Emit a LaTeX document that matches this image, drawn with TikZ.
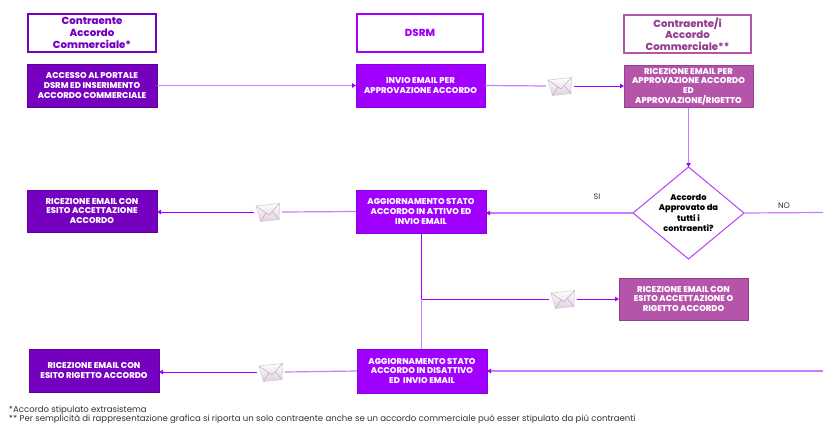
\documentclass[tikz,border=0pt]{standalone}
\usepackage{fontspec}
\setmainfont{Poppins}[BoldFont={Poppins ExtraBold}]
\usetikzlibrary{shapes.geometric,arrows.meta}
\definecolor{pviolet}{HTML}{A100FF}
\definecolor{pdark}{HTML}{7500C0}
\definecolor{pdarkb}{HTML}{5E0099}
\definecolor{pmag}{HTML}{B455AA}
\definecolor{pmagb}{HTML}{953F93}
\definecolor{pline}{HTML}{C77DFF}
\definecolor{pgrey}{HTML}{333333}
\tikzset{
  every node/.style={inner sep=0pt,outer sep=0pt,align=center},
  procbox/.style={draw,line width=1pt,text=white,font=\fontsize{8.4}{9.7}\selectfont\bfseries},
  violetbox/.style={procbox,fill=pviolet,draw=pviolet!85!black},
  darkbox/.style={procbox,fill=pdark,draw=pdarkb},
  magbox/.style={procbox,fill=pmag,draw=pmagb},
  headbox/.style={draw,fill=white,line width=1.2pt,font=\fontsize{10.2}{11.6}\selectfont\bfseries},
  conn/.style={line width=1.2pt,draw=pline},
  connstrong/.style={line width=1pt,draw=pviolet},
  tip/.style={-{Triangle[length=4pt,width=4.5pt]},line width=1pt,draw=pviolet,color=pviolet},
  lighttip/.style={-{Triangle[length=4pt,width=4.5pt,color=pviolet]},line width=1.2pt,draw=pline},
  envnode/.style={minimum width=28pt,minimum height=24pt},
  lbl/.style={text=pgrey,font=\fontsize{8}{9}\selectfont},
  envbody/.style={draw=black!18,line width=.6pt,top color=white,bottom color=violet!20},
  envfold/.style={draw=black!28,line width=.6pt},
  note/.style={anchor=base west,text=pgrey,font=\fontsize{8.55}{9}\selectfont}
}
\newcommand{\envelopeat}[1]{%
  \begin{scope}[shift={(#1)}]
    \path[envbody] (-12,-6) -- (11.5,-8.5) -- (11,7.5) -- (-7.5,9.5) -- cycle;
    \draw[envfold] (-12,-6) -- (1,3) -- (11.5,-8.5);
    \draw[envfold] (-7.5,9.5) -- (-2,1);
    \draw[envfold] (11,7.5) -- (4.5,0);
  \end{scope}}
\begin{document}
\begin{tikzpicture}[x=1pt,y=-1pt]
\useasboundingbox (0,0) rectangle (823,423);
% headers
\node[headbox,draw=pdark,text=pdark,minimum width=128pt,minimum height=38pt] (h1) at (92,33) {Contraente\\Accordo\\Commerciale*};
\node[headbox,draw=pviolet,text=pviolet,minimum width=126pt,minimum height=38pt] (h2) at (420,33) {\raisebox{-2.5pt}{DSRM}};
\node[headbox,draw=pmag,text=pmagb,minimum width=127pt,minimum height=38pt] (h3) at (687.5,34) {Contraente/i\\Accordo\\Commerciale**};
% boxes
\node[darkbox,minimum width=130pt,minimum height=43pt] (a1) at (92,85.5) {ACCESSO AL PORTALE\\DSRM ED INSERIMENTO\\ACCORDO COMMERCIALE};
\node[violetbox,minimum width=129pt,minimum height=43pt] (b1) at (420.5,85.5) {INVIO EMAIL PER\\APPROVAZIONE ACCORDO};
\node[magbox,minimum width=129pt,minimum height=42pt] (c1) at (688.5,86.5) {RICEZIONE EMAIL PER\\APPROVAZIONE ACCORDO\\ED\\APPROVAZIONE/RIGETTO};
\node[diamond,draw=pviolet!75,line width=1pt,fill=white,minimum width=111pt,minimum height=92pt,aspect=1.2,font=\fontsize{8.3}{10.4}\selectfont\bfseries,text=black] (d) at (688.5,213) {Accordo\\Approvato da\\tutti i\\contraenti?};
\node[darkbox,minimum width=130pt,minimum height=42pt] (a2) at (92,211) {RICEZIONE EMAIL CON\\ESITO ACCETTAZIONE\\ACCORDO};
\node[violetbox,minimum width=130pt,minimum height=43pt] (b2) at (421,211.5) {AGGIORNAMENTO STATO\\ACCORDO IN ATTIVO ED\\INVIO EMAIL};
\node[magbox,minimum width=129pt,minimum height=42pt] (c2) at (683.5,299) {RICEZIONE EMAIL CON\\ESITO ACCETTAZIONE O\\RIGETTO ACCORDO};
\node[violetbox,minimum width=130pt,minimum height=44pt] (b3) at (422,371) {AGGIORNAMENTO STATO\\ACCORDO IN DISATTIVO\\ED\ \ INVIO EMAIL};
\node[darkbox,minimum width=130pt,minimum height=43pt] (a3) at (94,370.5) {RICEZIONE EMAIL CON\\ESITO RIGETTO ACCORDO};
% envelope placeholders
\node[envnode] (e1) at (560,86) {};
\node[envnode] (e2) at (268,212) {};
\node[envnode] (e3) at (563,299) {};
\node[envnode] (e4) at (271,372) {};
\envelopeat{560,86}
\envelopeat{268,212}
\envelopeat{563,299}
\envelopeat{271,372}
% free ends and junctions
\coordinate (rno) at (823,212.5);
\coordinate (rback) at (823,371);
\coordinate (split) at (421.5,299);
% connectors
\draw[lighttip] (a1.east) -- (b1.west);
\draw[conn] (b1.east) -- (e1.west);
\draw[tip] (e1.east) -- (c1.west |- e1.east);
\draw[lighttip] (c1.south) -- (d.north);
\draw[lighttip] (d.west) -- (b2.east |- d.west);
\draw[conn] (b2.west) -- (e2.east);
\draw[tip] (e2.west) -- (a2.east |- e2.west);
\draw[conn] (d.east) -- (rno);
\draw[connstrong] (split |- b2.south) -- (split);
\draw[conn] (split) -- (split |- b3.north);
\draw[connstrong] (split) -- (e3.west);
\draw[tip] (e3.east) -- (c2.west);
\draw[lighttip] (rback) -- (b3.east |- rback);
\draw[conn] (b3.west) -- (e4.east);
\draw[tip] (e4.west) -- (a3.east |- e4.west);
% labels
\node[lbl] (si) at (597,196.5) {SI};
\node[lbl] (no) at (784,206) {NO};
\node[note] (n1) at (9,412.5) {*Accordo stipulato extrasistema};
\node[note] (n2) at (9,421) {** Per semplicità di rappresentazione grafica si riporta un solo contraente anche se un accordo commerciale può esser stipulato da più contraenti};
\end{tikzpicture}
\end{document}
